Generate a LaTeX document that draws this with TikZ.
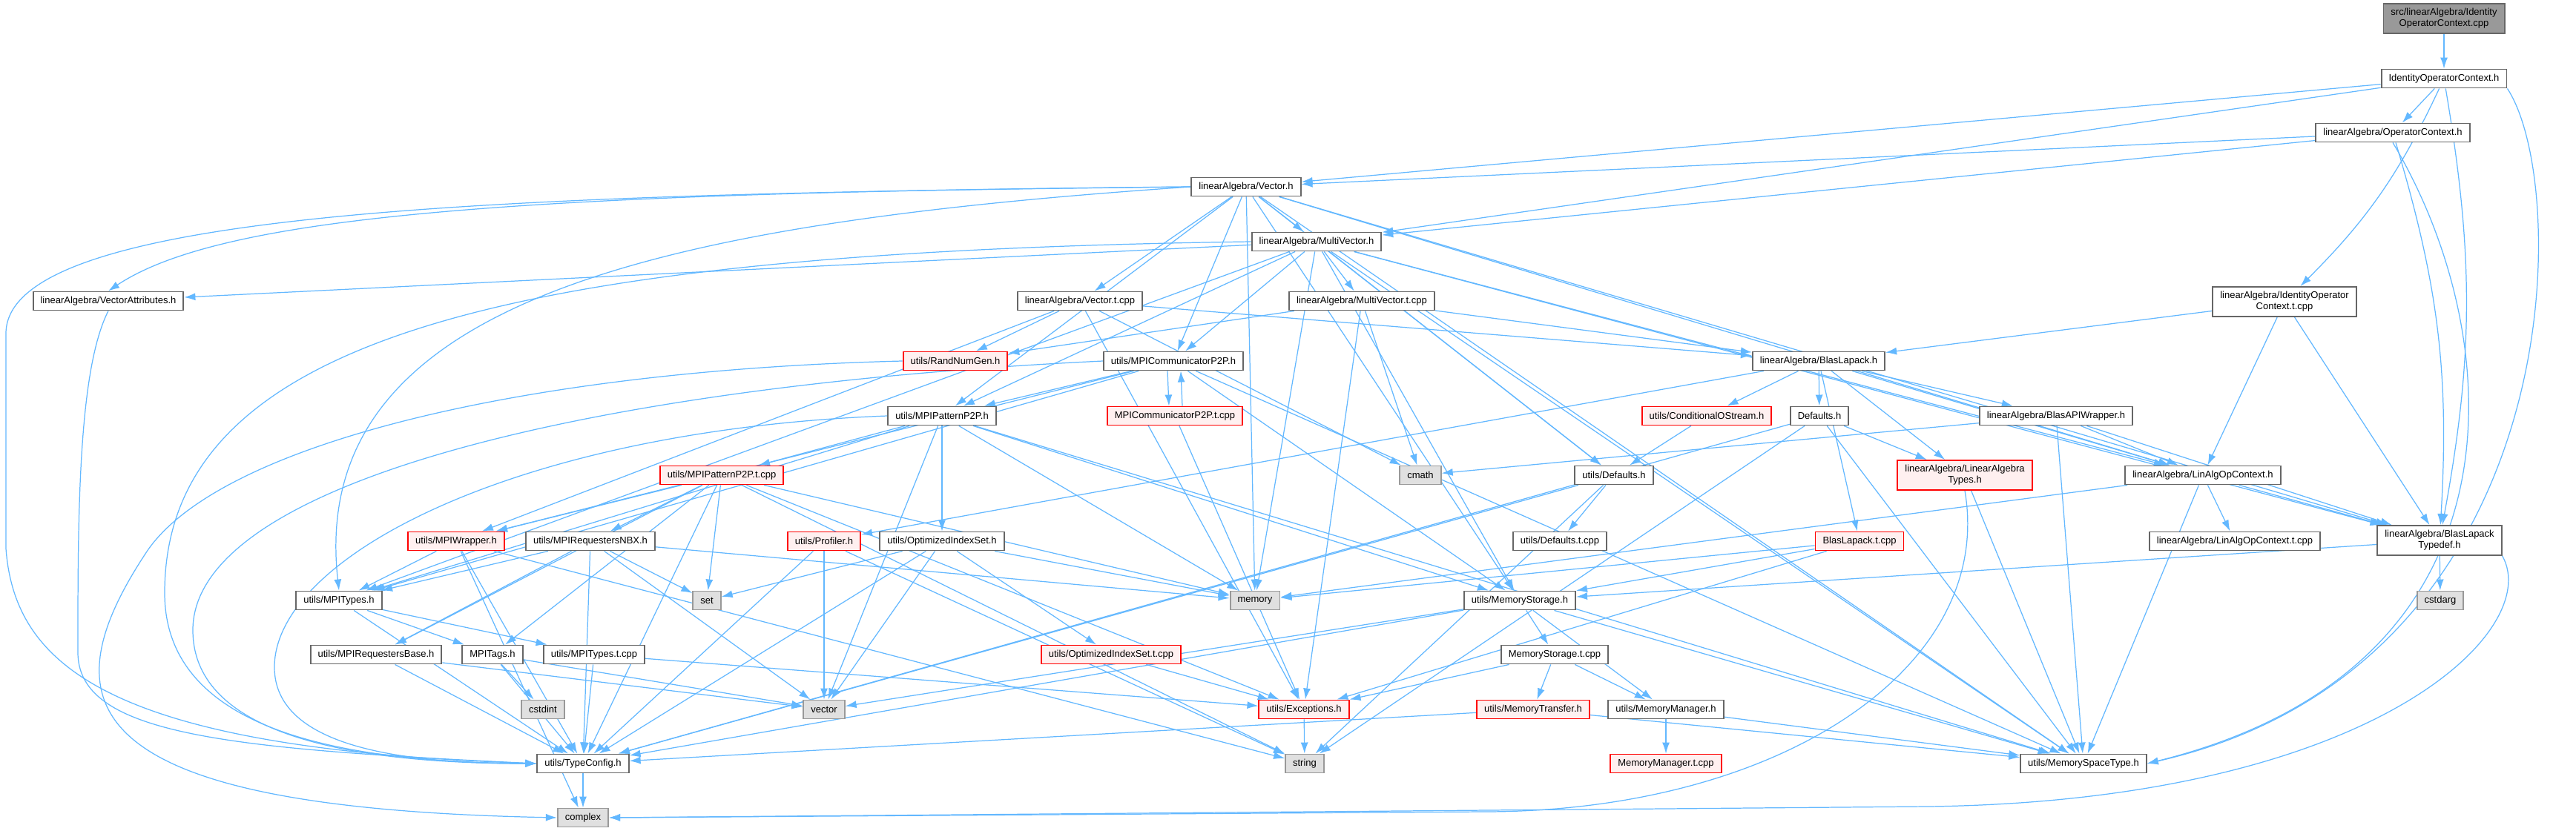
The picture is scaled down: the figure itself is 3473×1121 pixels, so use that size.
\documentclass[tikz,border=0pt]{standalone}
\usepackage{fontspec}
\setmainfont{Liberation Sans}
\usepackage{tikz}
\usetikzlibrary{arrows.meta}
\usepackage{xcolor}
\definecolor{edgeblue}{RGB}{99,184,255}
\definecolor{boxgray}{RGB}{102,102,102}
\definecolor{sysfill}{RGB}{224,224,224}
\definecolor{sysline}{RGB}{153,153,153}
\definecolor{cutfill}{RGB}{255,240,240}
\definecolor{rootfill}{RGB}{153,153,153}
\pgfdeclarelayer{bg}
\pgfsetlayers{bg,main}

\tikzset{
  file/.style={draw=boxgray, fill=white, line width=1.1pt,
    font=\fontsize{7.4}{8.6}\selectfont, inner xsep=0.2cm, inner ysep=0pt,
    minimum height=0.5cm, align=center},
  sysfile/.style={file, draw=sysline, fill=sysfill},
  cutfile/.style={file, draw=red, fill=cutfill},
  rootfile/.style={file, fill=rootfill, minimum height=0.8cm},
  twoline/.style={minimum height=0.8cm},
  dep/.style={draw=edgeblue, line width=0.7pt, -{Latex[length=0.3cm,width=0.2cm]}}
}

\begin{document}
\begin{tikzpicture}[x=0.02cm, y=-0.02cm]
  \useasboundingbox (0,0) rectangle (3473,1121);

  % files, row by row
  \node[rootfile] (root) at (3295,25) {src/linearAlgebra/Identity\\OperatorContext.cpp};
  \node[file] (idoh) at (3295,106) {IdentityOperatorContext.h};
  \node[file] (opctx) at (3226,179) {linearAlgebra/OperatorContext.h};
  \node[file] (vec) at (1680,252) {linearAlgebra/Vector.h};
  \node[file] (mvec) at (1775,326) {linearAlgebra/MultiVector.h};
  \node[file] (vattr) at (146,406) {linearAlgebra/VectorAttributes.h};
  \node[file] (vect) at (1456,406) {linearAlgebra/Vector.t.cpp};
  \node[file] (mvect) at (1836,406) {linearAlgebra/MultiVector.t.cpp};
  \node[file, twoline] (idot) at (3080,407) {linearAlgebra/IdentityOperator\\Context.t.cpp};
  \node[cutfile] (rng) at (1288,487) {utils/RandNumGen.h};
  \node[file] (mcomm) at (1582,487) {utils/MPICommunicatorP2P.h};
  \node[file] (blas) at (2452,487) {linearAlgebra/BlasLapack.h};
  \node[file] (mpat) at (1270,561) {utils/MPIPatternP2P.h};
  \node[cutfile] (mcommt) at (1584,561) {MPICommunicatorP2P.t.cpp};
  \node[cutfile] (cos) at (2301,561) {utils/ConditionalOStream.h};
  \node[file] (defh) at (2453,561) {Defaults.h};
  \node[file] (bapi) at (2772,561) {linearAlgebra/BlasAPIWrapper.h};
  \node[cutfile] (mpatt) at (973,641) {utils/MPIPatternP2P.t.cpp};
  \node[sysfile] (cmath) at (1915,641) {cmath};
  \node[file] (udef) at (2176,641) {utils/Defaults.h};
  \node[cutfile, twoline] (latypes) at (2649,641) {linearAlgebra/LinearAlgebra\\Types.h};
  \node[file] (laoc) at (2970,641) {linearAlgebra/LinAlgOpContext.h};
  \node[cutfile] (mpiw) at (615,730) {utils/MPIWrapper.h};
  \node[file] (nbx) at (796,730) {utils/MPIRequestersNBX.h};
  \node[cutfile] (prof) at (1111,730) {utils/Profiler.h};
  \node[file] (oset) at (1270,730) {utils/OptimizedIndexSet.h};
  \node[file] (udeft) at (2103,730) {utils/Defaults.t.cpp};
  \node[cutfile] (blast) at (2507,730) {BlasLapack.t.cpp};
  \node[file] (laoct) at (3013,730) {linearAlgebra/LinAlgOpContext.t.cpp};
  \node[file, twoline] (bltd) at (3289,729) {linearAlgebra/BlasLapack\\Typedef.h};
  \node[file] (mtypes) at (457,810) {utils/MPITypes.h};
  \node[sysfile] (set) at (953,810) {set};
  \node[sysfile] (memory) at (1692,810) {memory};
  \node[file] (mstor) at (2049,810) {utils/MemoryStorage.h};
  \node[sysfile] (cstdarg) at (3290,810) {cstdarg};
  \node[file] (rbase) at (507,883) {utils/MPIRequestersBase.h};
  \node[file] (mtags) at (664,883) {MPITags.h};
  \node[file] (mtypest) at (801,883) {utils/MPITypes.t.cpp};
  \node[cutfile] (osett) at (1498,883) {utils/OptimizedIndexSet.t.cpp};
  \node[file] (mstort) at (2096,883) {MemoryStorage.t.cpp};
  \node[sysfile] (cstdint) at (732,957) {cstdint};
  \node[sysfile] (vector) at (1111,957) {vector};
  \node[cutfile] (exc) at (1758,957) {utils/Exceptions.h};
  \node[cutfile] (mtrans) at (2067,957) {utils/MemoryTransfer.h};
  \node[file] (mman) at (2246,957) {utils/MemoryManager.h};
  \node[file] (tcfg) at (786,1030) {utils/TypeConfig.h};
  \node[sysfile] (string) at (1759,1030) {string};
  \node[cutfile] (mmant) at (2246,1030) {MemoryManager.t.cpp};
  \node[file] (mspace) at (2809,1030) {utils/MemorySpaceType.h};
  \node[sysfile] (complex) at (786,1103) {complex};

  \begin{pgfonlayer}{bg}
    \fill[white] (0,0) rectangle (3473,1121);

    % source file and operator contexts
    \path (root) edge[dep] (idoh);
    \path (idoh) edge[dep] (opctx) edge[dep] (vec) edge[dep] (mvec)
      edge[dep, bend left=10] (idot) edge[dep, bend left=10] (bltd);
    \draw[dep] (idoh.south east) .. controls (3467,250) and (3467,900) .. (mspace.east);
    \path (opctx) edge[dep] (vec) edge[dep] (mvec) edge[dep, bend left=10] (bltd);
    \draw[dep] (opctx.south) .. controls (3380,450) and (3420,900) .. (mspace.east);

    % Vector.h
    \path (vec) edge[dep] (mvec) edge[dep] (vect) edge[dep] (mcomm) edge[dep] (mpat)
      edge[dep] (udef) edge[dep] (laoc) edge[dep] (bltd)
      edge[dep] (memory) edge[dep] (mstor) edge[dep] (mspace);
    \draw[dep] (vec.west) .. controls (700,260) and (300,290) .. (vattr.north);
    \draw[dep] (vec.west) .. controls (700,262) and (8,280) .. (8,450) -- (8,740)
      .. controls (20,900) and (150,1010) .. (tcfg.west);
    \draw[dep] (vec.west) .. controls (900,300) and (413,400) .. (mtypes.north);

    % MultiVector.h
    \path (mvec) edge[dep] (vattr) edge[dep] (mvect) edge[dep] (mcomm) edge[dep] (mpat)
      edge[dep] (udef) edge[dep] (laoc) edge[dep] (bltd) edge[dep] (mtypes)
      edge[dep] (memory) edge[dep] (mstor) edge[dep] (mspace);
    \draw[dep] (mvec.west) .. controls (700,340) and (222,450) .. (222,800)
      .. controls (222,1000) and (500,1028) .. (tcfg.west);
    \draw[dep] (vattr.south) .. controls (105,500) and (105,700) .. (105,880)
      .. controls (105,990) and (300,1010) .. (tcfg.west);

    % implementation files
    \path (vect) edge[dep] (rng) edge[dep] (blas) edge[dep] (cmath) edge[dep] (mpiw) edge[dep] (exc);
    \path (mvect) edge[dep] (rng) edge[dep] (blas) edge[dep] (cmath) edge[dep] (exc);
    \path (idot) edge[dep] (blas) edge[dep] (laoc) edge[dep] (bltd);
    \draw[dep] (rng.west) .. controls (700,500) and (300,600) .. (200,741)
      .. controls (60,950) and (100,1090) .. (complex.west);

    % communication
    \path (mcomm) edge[dep] (mpat) edge[dep] (mpiw) edge[dep] (mtypes) edge[dep] (mstor)
      edge[dep] (mspace);
    \draw[dep] (mcomm.west) .. controls (800,520) and (260,650) .. (260,850)
      .. controls (260,1000) and (500,1030) .. (tcfg.west);
    \draw[dep] ([xshift=-0.16cm]mcomm.south) -- ([xshift=-0.16cm]mcommt.north);
    \draw[dep] ([xshift=0.2cm]mcommt.north) -- ([xshift=0.2cm]mcomm.south);
    \path (mcommt) edge[dep] (exc);
    \path (mpat) edge[dep] (mpatt) edge[dep] (oset) edge[dep] (mtypes) edge[dep] (vector)
      edge[dep] (memory) edge[dep] (mstor) edge[dep] (mspace);
    \draw[dep] (mpat.west) .. controls (700,580) and (370,750) .. (370,900)
      .. controls (370,1010) and (550,1030) .. (tcfg.west);
    \path (mpatt) edge[dep] (nbx) edge[dep] (mpiw) edge[dep] (rbase) edge[dep] (mtags)
      edge[dep] (set) edge[dep] (exc) edge[dep] (string) edge[dep] (memory) edge[dep] (tcfg);
    \path (mpiw) edge[dep] (mtypes) edge[dep] (tcfg) edge[dep] (complex) edge[dep] (string);
    \path (nbx) edge[dep] (mtypes) edge[dep] (rbase) edge[dep] (set) edge[dep] (vector)
      edge[dep] (memory) edge[dep] (tcfg);
    \path (mtypes) edge[dep] (mtags) edge[dep] (mtypest) edge[dep] (tcfg);
    \path (rbase) edge[dep] (tcfg) edge[dep] (vector);
    \path (mtags) edge[dep] (cstdint) edge[dep] (tcfg) edge[dep] (vector);
    \path (mtypest) edge[dep] (exc) edge[dep] (tcfg);
    \path (prof) edge[dep] (tcfg) edge[dep] (vector) edge[dep] (string);
    \path (oset) edge[dep] (set) edge[dep] (vector) edge[dep] (memory) edge[dep] (tcfg)
      edge[dep] (osett);
    \path (osett) edge[dep] (exc);

    % blas and lapack
    \path (blas) edge[dep] (cos) edge[dep] (defh) edge[dep] (bapi) edge[dep] (latypes)
      edge[dep] (laoc) edge[dep] (prof) edge[dep] (blast);
    \path (cos) edge[dep] (udef);
    \path (defh) edge[dep] (latypes) edge[dep] (tcfg) edge[dep] (string) edge[dep] (mspace);
    \path (bapi) edge[dep] (cmath) edge[dep] (laoc) edge[dep] (bltd) edge[dep] (mspace);
    \path (latypes) edge[dep] (mspace);
    \draw[dep] (latypes.south) .. controls (2690,900) and (2400,1095) .. (2000,1095) -- (complex.east);
    \path (laoc) edge[dep] (laoct) edge[dep] (bltd) edge[dep] (mspace) edge[dep] (memory);
    \path (blast) edge[dep] (mstor) edge[dep] (exc) edge[dep] (memory);
    \path (bltd) edge[dep] (cstdarg) edge[dep] (mstor);
    \draw[dep] (bltd.south east) .. controls (3430,850) and (3200,1080) .. (2600,1088) -- (complex.east);
    \path (udef) edge[dep] (udeft) edge[dep] (tcfg) edge[dep] (string);

    % memory handling
    \path (mstor) edge[dep] (vector) edge[dep] (mstort) edge[dep] (mman) edge[dep] (tcfg)
      edge[dep] (mspace);
    \path (mstort) edge[dep] (exc) edge[dep] (mtrans) edge[dep] (mman);
    \path (exc) edge[dep] (string);
    \path (mtrans) edge[dep] (tcfg) edge[dep] (mspace);
    \path (mman) edge[dep] (mmant) edge[dep] (mspace);
    \path (tcfg) edge[dep] (complex);
  \end{pgfonlayer}
\end{tikzpicture}
\end{document}
